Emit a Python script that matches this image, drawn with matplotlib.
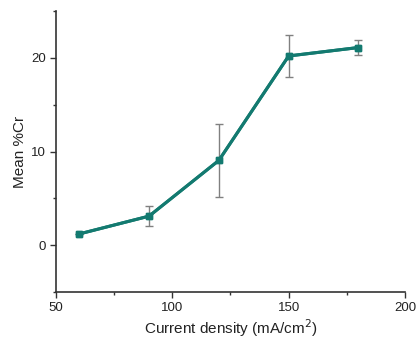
import matplotlib
matplotlib.use("Agg")
import matplotlib.pyplot as plt
from matplotlib.ticker import MultipleLocator

current_density = [60, 90, 120, 150, 180]
mean_cr = [1.2, 3.1, 9.05, 20.2, 21.1]
err = [0.0, 1.05, 3.9, 2.2, 0.85]

plt.rcParams['font.family'] = ['Liberation Sans', 'DejaVu Sans']

fig = plt.figure(figsize=(4.17, 3.43), dpi=100)
ax = fig.add_axes([56/417, 1 - 292/343, (405-56)/417, (292-11)/343])

ax.errorbar(current_density, mean_cr, yerr=err, color='#137a70', lw=2.2,
            marker='s', ms=5, ecolor='#808080', elinewidth=1.0, capsize=3,
            capthick=1.0, zorder=3)
ax.plot(current_density, mean_cr, color='#137a70', lw=2.2, marker='s', ms=5, zorder=4)

ax.set_xlim(50, 200)
ax.set_ylim(-5, 25)
ax.xaxis.set_major_locator(MultipleLocator(50))
ax.xaxis.set_minor_locator(MultipleLocator(25))
ax.yaxis.set_minor_locator(MultipleLocator(5))
ax.set_yticks([0, 10, 20])

for s in ['top', 'right']:
    ax.spines[s].set_visible(False)
for s in ['left', 'bottom']:
    ax.spines[s].set_color('#333333')
    ax.spines[s].set_linewidth(1.2)

ax.tick_params(which='major', direction='out', length=4, width=1, colors='#333333', labelsize=9.5, labelcolor='#222222')
ax.tick_params(which='minor', direction='out', length=2.5, width=1, colors='#333333')

ax.set_xlabel('Current density (mA/cm$^2$)', fontsize=11, color='#222222', labelpad=2)
ax.set_ylabel('Mean %Cr', fontsize=11, color='#222222', labelpad=3)

fig.savefig('out.png', dpi=100)
